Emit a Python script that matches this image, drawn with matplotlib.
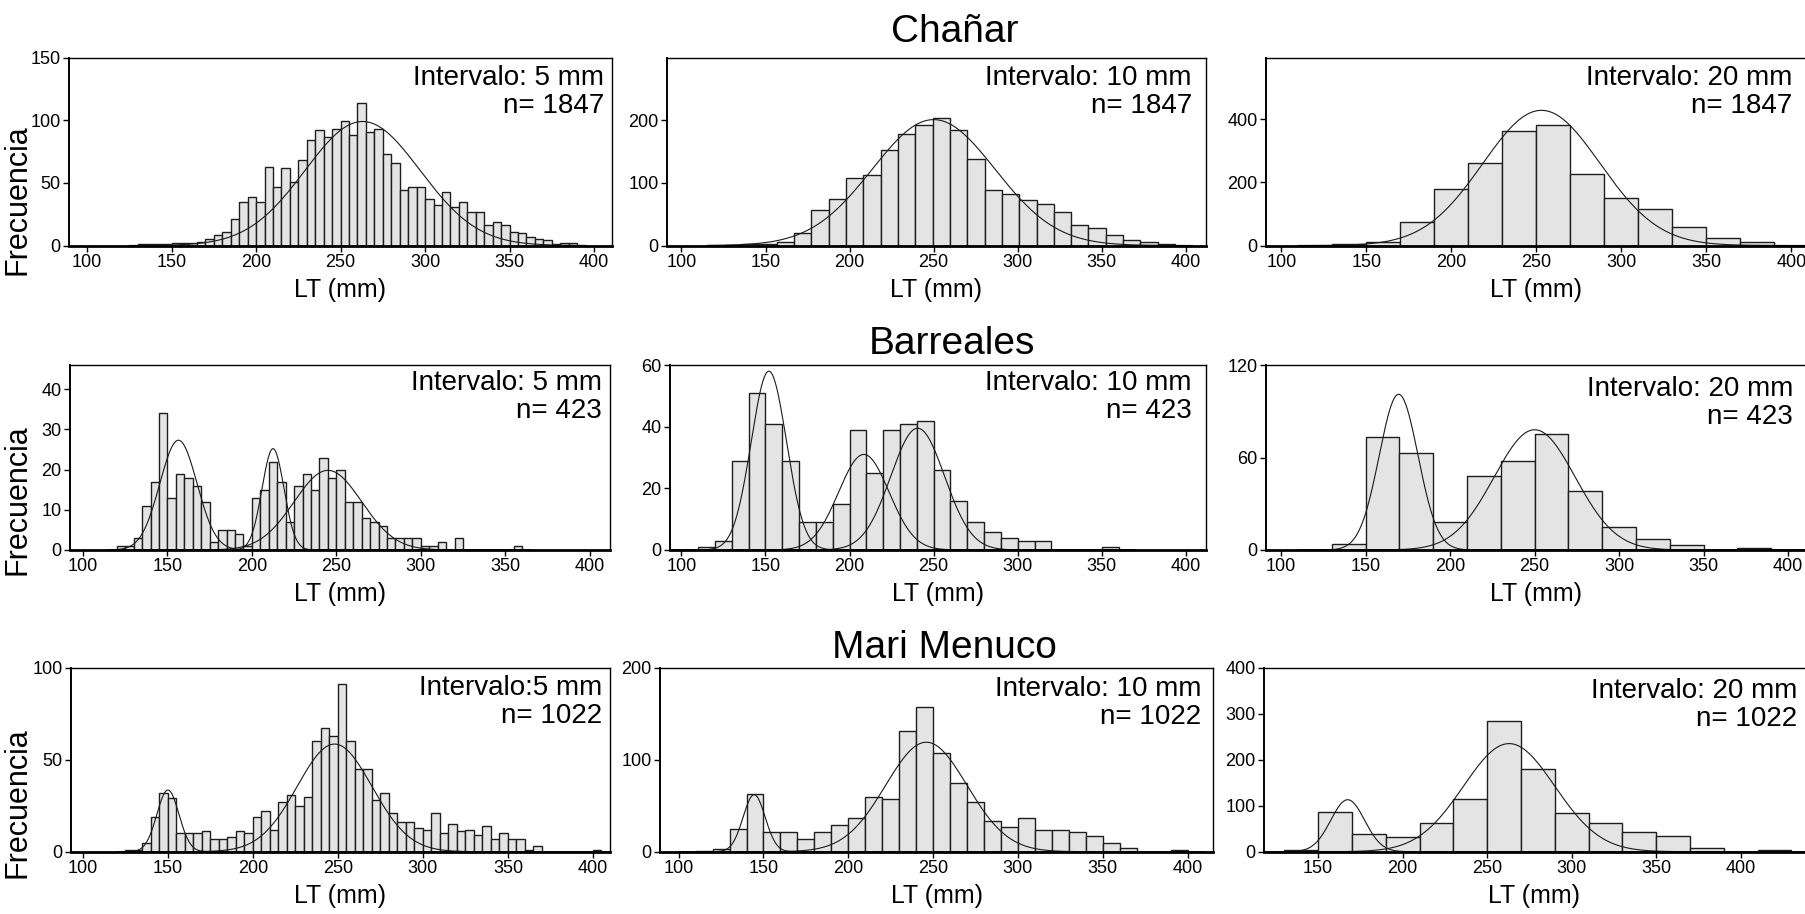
import numpy as np
import matplotlib
matplotlib.use("Agg")
import matplotlib.pyplot as plt

plt.rcParams['font.family'] = ['Liberation Sans', 'DejaVu Sans']

W, H = 1805, 914

# ---- data (counts per bin) ----
sites = ['Chañar', 'Barreales', 'Mari Menuco']
sizes = ['1847', '423', '1022']

chanar_5_start, chanar_5_width = 130, 5
chanar_5 = [1, 1, 1, 1, 2, 2, 2, 3, 5,
            8, 11, 21, 35, 39, 35, 63, 47, 62, 51, 68, 84, 92, 87, 93,
            99, 88, 114, 91, 93, 73, 66, 44, 47, 47, 37, 32, 43, 31, 35, 27, 27, 16, 19, 16,
            11, 10, 7, 5, 4, 1, 2, 2]
chanar_10_start, chanar_10_width = 125.8, 10.3
chanar_10 = [1, 3, 2, 6, 20, 56, 75, 108, 112, 153, 178, 192, 203, 184, 138,
             89, 83, 73, 67, 54, 33, 28, 16, 9, 6, 3]
chanar_20_start, chanar_20_width = 130, 20
chanar_20 = [4, 10, 73, 179, 261, 364, 380, 227, 151, 116, 59, 25, 11]

barreales_5_start, barreales_5_width = 120, 5
barreales_5 = [1, 1, 3, 11, 17, 34, 13, 19, 18, 16, 12, 2, 5, 5, 4, 1,
               13, 15, 22, 17, 7, 16, 19, 15, 23, 18, 20, 12, 12, 8, 7, 6, 3, 3, 3, 3,
               1, 1, 2, 0, 3, 0, 0, 0, 0, 0, 0, 1]
barreales_10_start, barreales_10_width = 100, 10
barreales_10 = [0, 1, 3, 29, 51, 41, 29, 9, 9, 15, 39, 25, 39, 41, 42, 26, 16, 9, 6, 4,
                3, 3, 0, 0, 0, 1]
barreales_20_start, barreales_20_width = 130, 20
barreales_20 = [4, 73, 63, 18, 48, 58, 75, 38, 15, 7, 3, 0, 1]

menuco_5_start, menuco_5_width = 125, 5
menuco_5 = [1, 1, 5, 19, 32, 29, 10, 10, 10, 11, 7, 7, 8, 11, 10, 19, 22, 12, 27, 31,
            25, 30, 60, 67, 63, 91, 60, 45, 45, 28, 32, 21, 16, 16, 13, 12, 21, 10, 15, 11,
            12, 9, 14, 7, 10, 7, 7, 1, 3, 0, 0, 0, 0, 0, 0, 1]
menuco_10_start, menuco_10_width = 110, 10
menuco_10 = [1, 3, 25, 63, 21, 21, 14, 21, 29, 37, 60, 57, 131, 157, 107, 75, 54, 33, 27, 37,
             24, 24, 21, 17, 9, 4, 0, 0, 2]
menuco_20_start, menuco_20_width = 130, 20
menuco_20 = [3, 86, 39, 32, 62, 115, 284, 180, 84, 62, 43, 34, 9, 0, 3]

# fitted normal curves: (mean, sd, peak height)
chanar_5_fit = [(263, 34, 99)]
chanar_10_fit = [(250, 36.5, 201)]
chanar_20_fit = [(253, 34.5, 428)]
barreales_5_fit = [(156.5, 11, 27.3), (212.5, 6.5, 25.2), (245, 20, 19.8)]
barreales_10_fit = [(152, 10.5, 58), (208.5, 15, 31), (240.5, 16, 39.5)]
barreales_20_fit = [(169.5, 11.5, 101), (250, 24, 78)]
menuco_5_fit = [(150, 6.5, 33.5), (248, 22, 58.5)]
menuco_10_fit = [(144.5, 6.5, 62), (246, 24, 119)]
menuco_20_fit = [(167.5, 10, 113), (263, 27, 235)]

labels_5 = ['Intervalo: 5 mm', 'Intervalo: 5 mm', 'Intervalo:5 mm']

yticks = [[[0, 50, 100, 150], [0, 100, 200], [0, 200, 400]],
          [[0, 10, 20, 30, 40], [0, 20, 40, 60], [0, 60, 120]],
          [[0, 50, 100], [0, 100, 200], [0, 100, 200, 300, 400]]]
ytops = [[150, 300, 595], [46, 60, 120], [100, 200, 400]]
xlims = [[(89.3, 410.6), (91.4, 412), (91, 408)],
         [(92.3, 412), (93.2, 412), (91, 410)],
         [(93, 410), (89, 415), (118, 438)]]

# axes boxes in pixels (left, top, right, bottom)
boxes = [[(69, 57.6, 612, 245.5), (667, 57.6, 1206, 245.5), (1266, 57.6, 1805, 245.5)],
         [(70, 365, 610, 550), (670, 365, 1206, 550), (1266, 365, 1805, 550)],
         [(71, 667.7, 610, 851.7), (660, 667.7, 1213, 851.7), (1264, 667.7, 1805, 851.7)]]
text_off = [[(8, 7), (14, 7), (13, 7)],
            [(8, 5), (14, 5), (12, 11)],
            [(8, 7), (12, 8), (8, 10)]]
title_pos = [(955, 32), (952, 344), (944, 648)]
freq_y = [200, 500, 803]

hists = [[(chanar_5_start, chanar_5_width, chanar_5, chanar_5_fit),
          (chanar_10_start, chanar_10_width, chanar_10, chanar_10_fit),
          (chanar_20_start, chanar_20_width, chanar_20, chanar_20_fit)],
         [(barreales_5_start, barreales_5_width, barreales_5, barreales_5_fit),
          (barreales_10_start, barreales_10_width, barreales_10, barreales_10_fit),
          (barreales_20_start, barreales_20_width, barreales_20, barreales_20_fit)],
         [(menuco_5_start, menuco_5_width, menuco_5, menuco_5_fit),
          (menuco_10_start, menuco_10_width, menuco_10, menuco_10_fit),
          (menuco_20_start, menuco_20_width, menuco_20, menuco_20_fit)]]

fig = plt.figure(figsize=(W / 100, H / 100), dpi=100)

for r in range(3):
    for c in range(3):
        l, t, rr, b = boxes[r][c]
        ax = fig.add_axes([l / W, 1 - b / H, (rr - l) / W, (b - t) / H])
        start, width, counts, fits = hists[r][c]
        edges = start + width * np.arange(len(counts))
        ax.bar(edges, counts, width=width, align='edge', color='#e4e4e4',
               edgecolor='#1e1e1e', linewidth=1.0, zorder=1)

        # normal curves over the data range
        xs = np.linspace(edges[0] - width, edges[-1] + 2 * width, 600)
        for mu, sd, peak in fits:
            ax.plot(xs, peak * np.exp(-0.5 * ((xs - mu) / sd) ** 2),
                    color='#1a1a1a', lw=0.8, zorder=2)

        ax.set_xlim(*xlims[r][c])
        ax.set_ylim(0, ytops[r][c])
        ax.set_yticks(yticks[r][c])
        if r == 2 and c == 2:
            ax.set_xticks([150, 200, 250, 300, 350, 400])
        else:
            ax.set_xticks([100, 150, 200, 250, 300, 350, 400])
        ax.tick_params(direction='out', length=4, width=1, labelsize=13, pad=2,
                       colors='black')

        for side in ['top', 'right']:
            ax.spines[side].set_linewidth(1.0)
        ax.spines['left'].set_linewidth(1.4)
        ax.spines['bottom'].set_linewidth(2.0)
        if c == 2:
            ax.spines['right'].set_visible(False)

        interval = labels_5[r] if c == 0 else 'Intervalo: %d mm' % (10 * 2 ** (c - 1))
        dx, dy = text_off[r][c]
        ax.annotate(interval + '\nn= ' + sizes[r], xy=(1, 1), xycoords='axes fraction',
                    xytext=(-dx, -dy), textcoords='offset pixels', ha='right', va='top',
                    fontsize=20, linespacing=1.1)
        ax.annotate('LT (mm)', xy=(0.5, 0), xycoords='axes fraction', xytext=(0, -44),
                    textcoords='offset pixels', ha='center', va='center', fontsize=18)

    fig.text(title_pos[r][0] / W, 1 - title_pos[r][1] / H, sites[r], ha='center',
             va='center', fontsize=28)
    fig.text(18 / W, 1 - freq_y[r] / H, 'Frecuencia', rotation=90, ha='center',
             va='center', fontsize=22)

fig.savefig('out.png', dpi=100)
